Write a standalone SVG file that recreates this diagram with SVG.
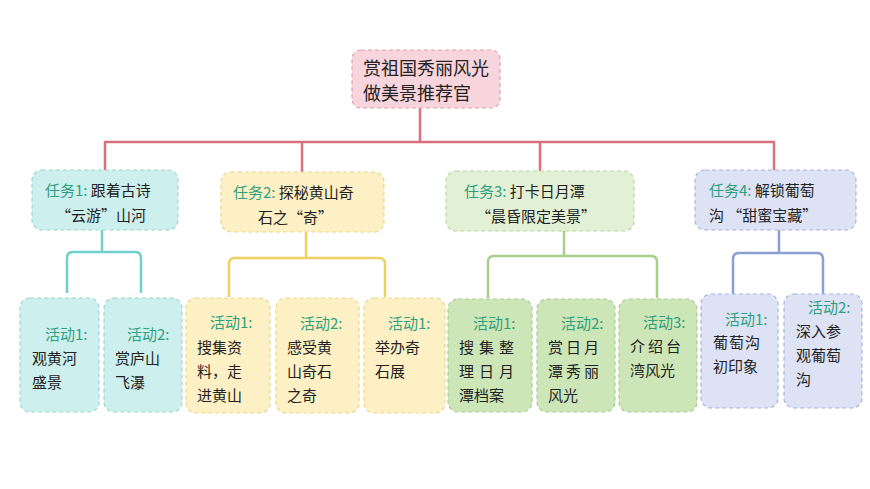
<svg xmlns="http://www.w3.org/2000/svg" width="870" height="489" viewBox="0 0 870 489">
<style>
text{font-family:"Noto Sans CJK SC","Liberation Sans",sans-serif;font-size:15px;fill:#222}
.l{fill:#2fa07e}
.t{font-size:18px}
rect{stroke-width:1.2;stroke-dasharray:4 3}
.c path{fill:none;stroke-width:2.5;stroke-linejoin:round}
</style>
<rect width="870" height="489" fill="#fff" style="stroke:none"/>
<g class="c" id="connectors">
<path d="M420 108V142M105 170V142H774V170M302 172V142M540 171V142" stroke="#d8707e"/>
<path d="M102 230V252M67 293V258Q67 252 73 252H135Q141 252 141 258V293" stroke="#6fd0cc"/>
<path d="M306 232V258M229 297V264Q229 258 235 258H379Q385 258 385 264V297" stroke="#f0d060"/>
<path d="M564 231V256M488 298V262Q488 256 494 256H651Q657 256 657 262V298" stroke="#a8d08a"/>
<path d="M779 230V253M733 295V259Q733 253 739 253H817Q823 253 823 259V295" stroke="#8aa0d0"/>
</g>
<g id="root"><rect x="352" y="50" width="148" height="58" rx="9" fill="#f8d4dc" stroke="#e0a0ae"/>
<text class="t" x="363" y="75">赏祖国秀丽风光</text><text class="t" x="363" y="100">做美景推荐官</text></g>
<g id="task1"><rect x="32" y="170" width="146" height="60" rx="10" fill="#cdf0ee" stroke="#9ad6d2"/>
<text x="45" y="196"><tspan class="l">任务1:</tspan> 跟着古诗</text><text x="56" y="221">“云游”山河</text></g>
<g id="task2"><rect x="221" y="172" width="163" height="60" rx="10" fill="#fdf0c4" stroke="#ecd58a"/>
<text x="233" y="198"><tspan class="l">任务2:</tspan> 探秘黄山奇</text><text x="258" y="223">石之“奇”</text></g>
<g id="task3"><rect x="446" y="171" width="188" height="60" rx="10" fill="#e2f1d6" stroke="#b8d8a0"/>
<text x="464" y="197"><tspan class="l">任务3:</tspan> 打卡日月潭</text><text x="476" y="222">“晨昏限定美景”</text></g>
<g id="task4"><rect x="695" y="170" width="161" height="60" rx="10" fill="#dde3f5" stroke="#a8b4d8"/>
<text x="709" y="196"><tspan class="l">任务4:</tspan> 解锁葡萄</text><text x="709" y="221">沟 “甜蜜宝藏”</text></g>
<g id="a11"><rect x="20" y="298" width="79" height="114" rx="10" fill="#cdf0ee" stroke="#9ad6d2"/>
<text class="l" x="45" y="340">活动1:</text><text x="32" y="364">观黄河</text><text x="32" y="388">盛景</text></g>
<g id="a12"><rect x="104" y="298" width="78" height="114" rx="10" fill="#cdf0ee" stroke="#9ad6d2"/>
<text class="l" x="127" y="340">活动2:</text><text x="115" y="364">赏庐山</text><text x="115" y="388">飞瀑</text></g>
<g id="a21"><rect x="186" y="298" width="84" height="115" rx="10" fill="#fdf0c4" stroke="#ecd58a"/>
<text class="l" x="210" y="328">活动1:</text><text x="197" y="353">搜集资</text><text x="197" y="377">料，走</text><text x="197" y="401">进黄山</text></g>
<g id="a22"><rect x="276" y="298" width="83" height="115" rx="10" fill="#fdf0c4" stroke="#ecd58a"/>
<text class="l" x="300" y="329">活动2:</text><text x="287" y="353">感受黄</text><text x="287" y="377">山奇石</text><text x="287" y="401">之奇</text></g>
<g id="a23"><rect x="364" y="298" width="81" height="115" rx="10" fill="#fdf0c4" stroke="#ecd58a"/>
<text class="l" x="388" y="329">活动1:</text><text x="375" y="353">举办奇</text><text x="375" y="377">石展</text></g>
<g id="a31"><rect x="448" y="299" width="84" height="113" rx="10" fill="#cde6b8" stroke="#a8cc90"/>
<text class="l" x="473" y="329">活动1:</text><text x="459" y="353" letter-spacing="5">搜集整</text><text x="459" y="377" letter-spacing="5">理日月</text><text x="459" y="401">潭档案</text></g>
<g id="a32"><rect x="537" y="299" width="78" height="113" rx="10" fill="#cde6b8" stroke="#a8cc90"/>
<text class="l" x="561" y="329">活动2:</text><text x="548" y="353" letter-spacing="3">赏日月</text><text x="548" y="377" letter-spacing="3">潭秀丽</text><text x="548" y="401">风光</text></g>
<g id="a33"><rect x="619" y="299" width="78" height="113" rx="10" fill="#cde6b8" stroke="#a8cc90"/>
<text class="l" x="643" y="328">活动3:</text><text x="630" y="352" letter-spacing="3">介绍台</text><text x="630" y="376">湾风光</text></g>
<g id="a41"><rect x="701" y="294" width="77" height="114" rx="10" fill="#dde3f5" stroke="#a8b4d8"/>
<text class="l" x="725" y="325">活动1:</text><text x="713" y="348" letter-spacing="1">葡萄沟</text><text x="713" y="372">初印象</text></g>
<g id="a42"><rect x="784" y="294" width="78" height="114" rx="10" fill="#dde3f5" stroke="#a8b4d8"/>
<text class="l" x="808" y="313">活动2:</text><text x="796" y="337">深入参</text><text x="796" y="361">观葡萄</text><text x="796" y="385">沟</text></g>
</svg>
